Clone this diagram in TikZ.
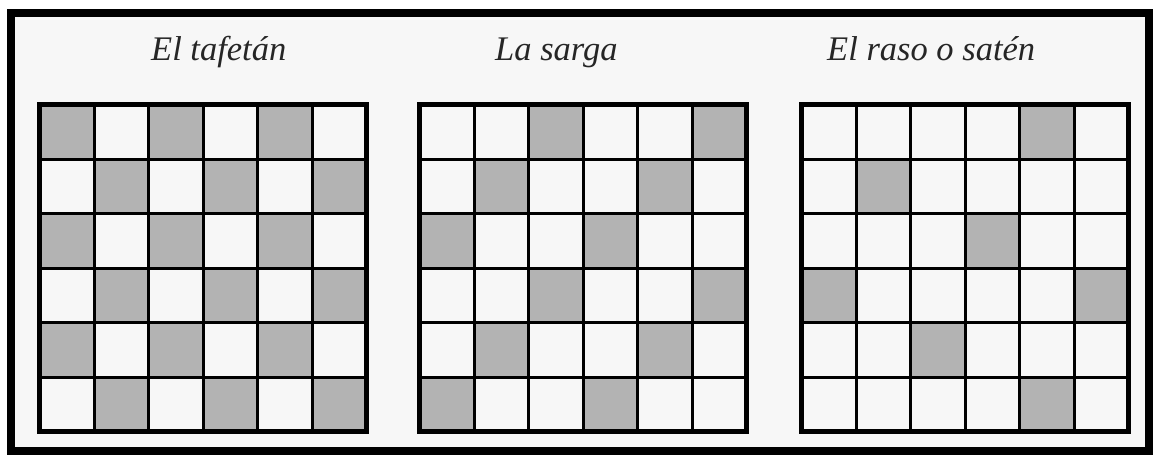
\documentclass[tikz,border=0pt]{standalone}
\usepackage{fontspec}
\setmainfont{Liberation Serif}
\usepackage{tikz}

\definecolor{pagebg}{HTML}{F7F7F7}
\definecolor{cellgray}{HTML}{B3B3B3}

\begin{document}
\begin{tikzpicture}[
  x=1pt, y=-1pt,
  titletext/.style={font=\fontsize{34.5}{40}\selectfont\itshape, anchor=base west,
                    inner sep=0pt, text=black!85},
  weft/.style={fill=cellgray},
  rule/.style={line width=3pt},
  frame/.style={line width=5pt},
  border/.style={line width=8pt}
]
% page and outer border
\fill[white] (0,0) rectangle (1153,455);
\fill[pagebg] (11,13) rectangle (1149,451);
\draw[border] (11,13) rectangle (1149,451);

% titles
\node[titletext] (t1) at (151,60) {El tafetán};
\node[titletext] (t2) at (495,60) {La sarga};
\node[titletext] (t3) at (827,60) {El raso o satén};

% the three weaves: left edge / grey cells (column/row)
\foreach \gx/\cells in {
  39.5/{0/0,2/0,4/0,1/1,3/1,5/1,0/2,2/2,4/2,1/3,3/3,5/3,0/4,2/4,4/4,1/5,3/5,5/5},
  419.5/{2/0,5/0,1/1,4/1,0/2,3/2,2/3,5/3,1/4,4/4,0/5,3/5},
  801.5/{4/0,1/1,3/2,0/3,5/3,2/4,4/5}}{
  \foreach \c/\r in \cells
    \fill[weft] (\gx+54.5*\c,104.5+54.5*\r) rectangle ++(54.5,54.5);
  \foreach \i in {1,...,5}{
    \draw[rule] (\gx+54.5*\i,104.5) -- ++(0,327);
    \draw[rule] (\gx,104.5+54.5*\i) -- ++(327,0);
  }
  \draw[frame] (\gx,104.5) rectangle ++(327,327);
}
\end{tikzpicture}
\end{document}
